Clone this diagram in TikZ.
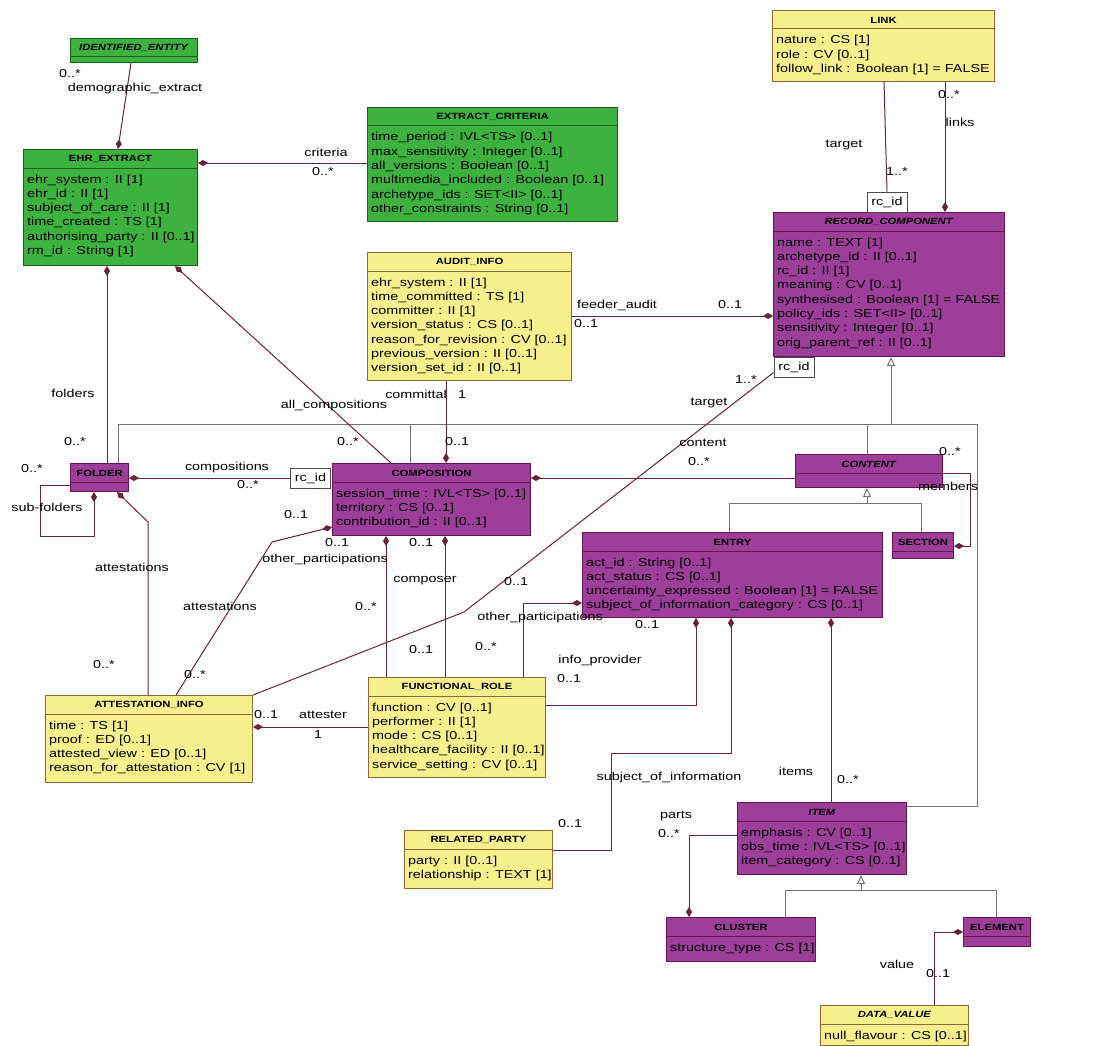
\documentclass[tikz,border=0pt]{standalone}
\usepackage{fontspec}
\setmainfont{Liberation Sans}[FakeStretch=1.25]
\usetikzlibrary{arrows.meta}

\definecolor{boxgreen}{RGB}{62,178,62}
\definecolor{edgegreen}{RGB}{25,95,25}
\definecolor{boxpurple}{RGB}{158,62,155}
\definecolor{edgepurple}{RGB}{105,20,75}
\definecolor{boxyellow}{RGB}{247,239,140}
\definecolor{edgeyellow}{RGB}{140,105,50}
\definecolor{linemaroon}{RGB}{105,35,65}
\definecolor{gengray}{RGB}{115,115,115}

% class box: name, style, x, y, width, height, title
\newcommand{\umlclass}[7]{%
  \node[#2, minimum width=#5pt, minimum height=#6pt, anchor=north west] (#1) at (#3,#4) {};
  \draw[#2, fill=none] ([yshift=-19pt]#1.north west) -- ([yshift=-19pt]#1.north east);
  \node[ttl] (#1-t) at ([yshift=-10pt]#1.north) {#7};
}
% attribute rows of a class
\newcommand{\umlattrs}[2]{%
  \foreach \a [count=\i from 0] in {#2}
    \node[attr] (#1-\i) at ([xshift=4pt, yshift={-31pt-14.3pt*\i}]#1.north west) {\a};
}

\begin{document}
\begin{tikzpicture}[x=1pt, y=-1pt,
    greenbox/.style={draw=edgegreen, fill=boxgreen, line width=1pt, inner sep=0pt},
    purplebox/.style={draw=edgepurple, fill=boxpurple, line width=1pt, inner sep=0pt},
    yellowbox/.style={draw=edgeyellow, fill=boxyellow, line width=1pt, inner sep=0pt},
    ttl/.style={font=\fontsize{9}{11}\selectfont\bfseries, inner sep=0pt},
    attr/.style={anchor=west, font=\fontsize{11.5}{14}\selectfont, inner sep=0pt, text height=8.5pt, text depth=2.5pt},
    lbl/.style={font=\fontsize{11.5}{14}\selectfont, inner sep=0pt, text height=8.5pt, text depth=2.5pt},
    qual/.style={draw=black!70, fill=white, line width=0.8pt, font=\fontsize{11.5}{14}\selectfont, minimum width=40pt, minimum height=20pt, inner sep=0pt},
    partof/.style={draw=linemaroon, line width=1pt, -{Diamond[length=10pt, width=6pt]}},
    assocline/.style={draw=linemaroon, line width=1pt},
    genline/.style={draw=gengray, line width=1pt},
    tri/.style={-{Triangle[open, length=9pt, width=8pt]}}]

  \path[use as bounding box, fill=white] (0,0) rectangle (1105,1046);

  % classes
  \umlclass{ie}{greenbox}{70}{38}{127}{24}{\textit{IDENTIFIED\_ENTITY}}
  \umlclass{ehr}{greenbox}{23}{149}{174}{116}{EHR\_EXTRACT}
  \umlattrs{ehr}{ehr\_system : II [1],ehr\_id : II [1],subject\_of\_care : II [1],time\_created : TS [1],authorising\_party : II [0..1],rm\_id : String [1]}
  \umlclass{ec}{greenbox}{367}{107}{250}{114}{EXTRACT\_CRITERIA}
  \umlattrs{ec}{time\_period : IVL<TS> [0..1],max\_sensitivity : Integer [0..1],all\_versions : Boolean [0..1],multimedia\_included : Boolean [0..1],archetype\_ids : SET<II> [0..1],other\_constraints : String [0..1]}
  \umlclass{audit}{yellowbox}{367}{252}{204}{128}{AUDIT\_INFO}
  \umlattrs{audit}{ehr\_system : II [1],time\_committed : TS [1],committer : II [1],version\_status : CS [0..1],reason\_for\_revision : CV [0..1],previous\_version : II [0..1],version\_set\_id : II [0..1]}
  \umlclass{link}{yellowbox}{772}{10}{222}{71}{LINK}
  \umlattrs{link}{nature : CS [1],role : CV [0..1],follow\_link : Boolean [1] = FALSE}
  \umlclass{rc}{purplebox}{773}{212}{231}{144}{\textit{RECORD\_COMPONENT}}
  \umlattrs{rc}{name : TEXT [1],archetype\_id : II [0..1],rc\_id : II [1],meaning : CV [0..1],synthesised : Boolean [1] = FALSE,policy\_ids : SET<II> [0..1],sensitivity : Integer [0..1],orig\_parent\_ref : II [0..1]}
  \umlclass{folder}{purplebox}{70}{463}{58}{28}{FOLDER}
  \umlclass{comp}{purplebox}{332}{463}{198}{72}{COMPOSITION}
  \umlattrs{comp}{session\_time : IVL<TS> [0..1],territory : CS [0..1],contribution\_id : II [0..1]}
  \umlclass{content}{purplebox}{795}{454}{147}{33}{\textit{CONTENT}}
  \umlclass{entry}{purplebox}{582}{532}{300}{85}{ENTRY}
  \umlattrs{entry}{act\_id : String [0..1],act\_status : CS [0..1],uncertainty\_expressed : Boolean [1] = FALSE,subject\_of\_information\_category : CS [0..1]}
  \umlclass{section}{purplebox}{892}{532}{61}{26}{SECTION}
  \umlclass{att}{yellowbox}{45}{695}{207}{87}{ATTESTATION\_INFO}
  \umlattrs{att}{time : TS [1],proof : ED [0..1],attested\_view : ED [0..1],reason\_for\_attestation : CV [1]}
  \umlclass{fr}{yellowbox}{368}{677}{177}{100}{FUNCTIONAL\_ROLE}
  \umlattrs{fr}{function : CV [0..1],performer : II [1],mode : CS [0..1],healthcare\_facility : II [0..1],service\_setting : CV [0..1]}
  \umlclass{rp}{yellowbox}{404}{830}{148}{58}{RELATED\_PARTY}
  \umlattrs{rp}{party : II [0..1],relationship : TEXT [1]}
  \umlclass{item}{purplebox}{737}{802}{169}{72}{\textit{ITEM}}
  \umlattrs{item}{emphasis : CV [0..1],obs\_time : IVL<TS> [0..1],item\_category : CS [0..1]}
  \umlclass{cluster}{purplebox}{666}{917}{149}{44}{CLUSTER}
  \umlattrs{cluster}{structure\_type : CS [1]}
  \umlclass{element}{purplebox}{963}{917}{67}{29}{ELEMENT}
  \umlclass{dv}{yellowbox}{820}{1005}{148}{40}{\textit{DATA\_VALUE}}
  \umlattrs{dv}{null\_flavour : CS [0..1]}

  % qualifiers
  \node[qual] (rcid1) at (887,202) {rc\_id};
  \node[qual] (rcid2) at (794,367.5) {rc\_id};
  \node[qual] (rcid3) at (310.5,478) {rc\_id};

  % bend points
  \coordinate (bendA) at (464,612);
  \coordinate (bendB) at (148,522);
  \coordinate (bendC) at (272,542);
  \coordinate (loopC) at (40,536);
  \coordinate (memC) at (970,546);
  \coordinate (soiC) at (611,753);
  \coordinate (rcBar) at (891,424);
  \coordinate (barR) at (977,424);
  \coordinate (cBar) at (867,503);
  \coordinate (iBar) at (861,890);

  % generalisations
  \draw[genline, tri] (rcBar) -- ([xshift=118pt]rc.south west);
  \draw[genline] ([xshift=48pt]folder.north west) |- (barR) |- ([yshift=-4pt]item.north east);
  \draw[genline] ([xshift=78pt]comp.north west) |- (barR);
  \draw[genline] ([xshift=72pt]content.north west) |- (barR);
  \draw[genline, tri] (cBar) -- ([xshift=72pt]content.south west);
  \draw[genline] ([xshift=147pt]entry.north west) |- (cBar);
  \draw[genline] ([xshift=29pt]section.north west) |- (cBar);
  \draw[genline, tri] (iBar) -- ([xshift=124pt]item.south west);
  \draw[genline] ([xshift=119pt]cluster.north west) |- (iBar);
  \draw[genline] ([xshift=33pt]element.north west) |- (iBar);

  % associations
  \draw[partof] ([xshift=61pt]ie.south west) -- ([xshift=95pt]ehr.north west);
  \draw[partof] ([yshift=-56pt]ec.north west) -- ([yshift=-14pt]ehr.north east);
  \draw[partof] ([xshift=37pt]folder.north west) -- ([xshift=84pt]ehr.south west);
  \draw[partof] ([xshift=59pt]comp.north west) -- ([xshift=152pt]ehr.south west);
  \draw[partof] ([xshift=79pt]audit.south west) -- ([xshift=114pt]comp.north west);
  \draw[partof] ([yshift=-64pt]audit.north east) -- ([yshift=-104pt]rc.north west);
  \draw[partof] ([xshift=173pt]link.south west) -- ([xshift=172pt]rc.north west);
  \draw[assocline] ([xshift=112pt]link.south west) -- (rcid1.north);
  \draw[assocline] ([yshift=-5pt]rcid2.west) -- (bendA) -- (att.north east);
  \draw[partof] ([yshift=-22pt]folder.north west) -| (loopC) -| ([xshift=24pt]folder.south west);
  \draw[partof] (rcid3.west) -- (rcid3.west -| folder.east);
  \draw[partof] ([xshift=103pt]att.north west) -- (bendB) -- ([xshift=47pt]folder.south west);
  \draw[partof] ([xshift=131pt]att.north west) -- (bendC) -- ([yshift=-64pt]comp.north west);
  \draw[partof] ([xshift=18pt]fr.north west) -- ([xshift=54pt]comp.south west);
  \draw[partof] ([xshift=77pt]fr.north west) -- ([xshift=113pt]comp.south west);
  \draw[partof] ([yshift=-24pt]content.north west) -- ([yshift=-15pt]comp.north east);
  \draw[partof] ([yshift=-19pt]content.north east) -| (memC) -- ([yshift=-14pt]section.north east);
  \draw[partof] ([xshift=155pt]fr.north west) |- ([yshift=-71pt]entry.north west);
  \draw[partof] ([yshift=-28pt]fr.north east) -| ([xshift=114pt]entry.south west);
  \draw[partof] ([yshift=-20pt]rp.north east) -| (soiC) -| ([xshift=149pt]entry.south west);
  \draw[partof] ([xshift=94pt]item.north west) -- ([xshift=249pt]entry.south west);
  \draw[partof] ([yshift=-33pt]item.north west) -| ([xshift=23pt]cluster.north west);
  \draw[partof] ([xshift=114pt]dv.north west) |- ([yshift=-15pt]element.north west);
  \draw[partof] ([yshift=-50pt]fr.north west) -- ([yshift=-32pt]att.north east);

  % role names and multiplicities
  \node[lbl] (mDemo) at (70,75) {0..*};
  \node[lbl] (nDemo) at (135,89) {demographic\_extract};
  \node[lbl] (nCrit) at (326,153) {criteria};
  \node[lbl] (mCrit) at (323,172) {0..*};
  \node[lbl] (nFold) at (73,394) {folders};
  \node[lbl] (mFold) at (75,442) {0..*};
  \node[lbl] (mSub) at (32,469) {0..*};
  \node[lbl] (nSub) at (47,508) {sub-folders};
  \node[lbl] (nComps) at (227,467) {compositions};
  \node[lbl] (mComps) at (248,485) {0..*};
  \node[lbl] (nAll) at (334,405) {all\_compositions};
  \node[lbl] (mAll) at (348,442) {0..*};
  \node[lbl] (nCommit) at (416,395) {committal};
  \node[lbl] (mCommitA) at (462,395) {1};
  \node[lbl] (mCommitB) at (457,442) {0..1};
  \node[lbl] (nFeed) at (617,305) {feeder\_audit};
  \node[lbl] (mFeedA) at (730,305) {0..1};
  \node[lbl] (mFeedB) at (586,324) {0..1};
  \node[lbl] (nTargA) at (844,144) {target};
  \node[lbl] (mTargA) at (897,172) {1..*};
  \node[lbl] (mLinks) at (949,96) {0..*};
  \node[lbl] (nLinks) at (960,124) {links};
  \node[lbl] (mTargB) at (746,380) {1..*};
  \node[lbl] (nTargB) at (709,402) {target};
  \node[lbl] (nCont) at (703,443) {content};
  \node[lbl] (mCont) at (699,462) {0..*};
  \node[lbl] (mMemb) at (950,452) {0..*};
  \node[lbl] (nMemb) at (948,487) {members};
  \node[lbl] (nAttA) at (132,568) {attestations};
  \node[lbl] (mAttA) at (104,665) {0..*};
  \node[lbl] (nAttB) at (220,607) {attestations};
  \node[lbl] (mAttB) at (195,675) {0..*};
  \node[lbl] (mAttC) at (296,515) {0..1};
  \node[lbl] (mOthA) at (337,543) {0..1};
  \node[lbl] (nOthA) at (325,559) {other\_participations};
  \node[lbl] (mOthB) at (366,607) {0..*};
  \node[lbl] (mCompoA) at (421,543) {0..1};
  \node[lbl] (nCompo) at (425,579) {composer};
  \node[lbl] (mCompoB) at (421,650) {0..1};
  \node[lbl] (mTargC) at (516,582) {0..1};
  \node[lbl] (nOthB) at (540,617) {other\_participations};
  \node[lbl] (mOthC) at (647,625) {0..1};
  \node[lbl] (mOthD) at (486,647) {0..*};
  \node[lbl] (nInfo) at (600,660) {info\_provider};
  \node[lbl] (mInfo) at (569,679) {0..1};
  \node[lbl] (mAttest) at (266,715) {0..1};
  \node[lbl] (nAttest) at (323,715) {attester};
  \node[lbl] (mAttestB) at (318,735) {1};
  \node[lbl] (nSubj) at (669,777) {subject\_of\_information};
  \node[lbl] (mSubj) at (570,824) {0..1};
  \node[lbl] (nItems) at (796,772) {items};
  \node[lbl] (mItems) at (848,780) {0..*};
  \node[lbl] (nParts) at (676,815) {parts};
  \node[lbl] (mParts) at (669,834) {0..*};
  \node[lbl] (nValue) at (897,965) {value};
  \node[lbl] (mValue) at (938,974) {0..1};
\end{tikzpicture}
\end{document}
